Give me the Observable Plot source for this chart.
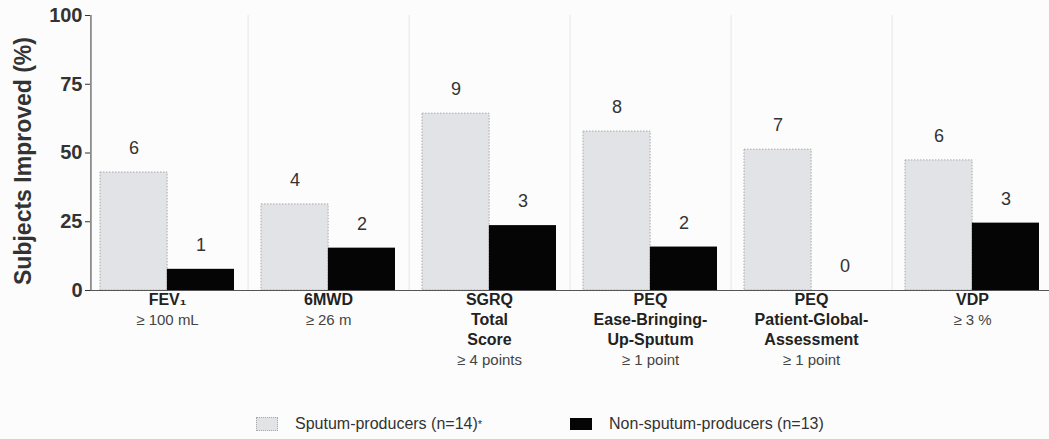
<!DOCTYPE html>
<html><head><meta charset="utf-8">
<script src="https://cdn.jsdelivr.net/npm/d3@7"></script>
<script src="https://cdn.jsdelivr.net/npm/@observablehq/plot@0.6"></script>
<style>
body{margin:0;background:#fcfcfc;font-family:"Liberation Sans",Arial,sans-serif;}
#legend{display:flex;align-items:center;padding-left:256px;margin-top:15px;font-size:16px;color:#333;}
.sw{display:inline-block;width:20px;height:12px;margin-right:17px;}
.item{display:flex;align-items:center;}
</style></head><body><div id="chart"></div><div id="legend"></div>
<script>
const categories = ["FEV1","6MWD","SGRQ","PEQ-EBUS","PEQ-PGA","VDP"];
const sputumPct = [42.9, 31.3, 64.3, 57.8, 51.2, 47.3];
const sputumN = [6, 4, 9, 8, 7, 6];
const nonSputumPct = [7.7, 15.4, 23.6, 15.8, 0, 24.5];
const nonSputumN = [1, 2, 3, 2, 0, 3];
const boldLines = [["FEV₁"], ["6MWD"], ["SGRQ","Total","Score"], ["PEQ","Ease-Bringing-","Up-Sputum"], ["PEQ","Patient-Global-","Assessment"], ["VDP"]];
const thresholdLines = ["≥ 100 mL","≥ 26 m","≥ 4 points","≥ 1 point","≥ 1 point","≥ 3 %"];
const yTicks = [0, 25, 50, 75, 100];
const seriesNames = ["Sputum-producers (n=14)", "Non-sputum-producers (n=13)"];
const seriesColors = ["#e2e3e6", "#050505"];

const W = 1049, H = 400, mL = 90, mR = 0, mT = 15, mB = 110;
const pIn = 0.17, pOut = 0.06;
const step = (W - mL - mR) / (categories.length - pIn + 2 * pOut);
const bw = step * (1 - pIn);
const half = bw / 2;

const sData = categories.map((c, i) => ({c, v: sputumPct[i], n: sputumN[i]}));
const nData = categories.map((c, i) => ({c, v: nonSputumPct[i], n: nonSputumN[i]}));
const boldData = categories.flatMap((c, i) => boldLines[i].map((t, j) => ({c, t, j})));
const thrData = categories.map((c, i) => ({c, t: thresholdLines[i], j: boldLines[i].length}));
const lineH = 20, firstDy = 14;

const marks = [
  Plot.ruleX(categories.slice(0, -1), {x: d => d, dx: step / 2, y1: 0, y2: 100, stroke: "#e6e6e6", strokeWidth: 1}),
  Plot.barY(sData, {x: "c", y: "v", fill: seriesColors[0], stroke: "#a8a8a8", strokeWidth: 1, strokeDasharray: "1.5,1.5", insetRight: half}),
  Plot.barY(nData, {x: "c", y: "v", fill: seriesColors[1], insetLeft: half}),
  Plot.text(sData, {x: "c", y: "v", text: d => String(d.n), dx: -half / 2, dy: -24, fontSize: 18, fill: "#333"}),
  Plot.text(nData, {x: "c", y: "v", text: d => String(d.n), dx: half / 2, dy: -24, fontSize: 18, fill: "#333"}),
  Plot.ruleY([0], {stroke: "#555", strokeWidth: 1.2}),
  Plot.axisY({ticks: yTicks, tickSize: 5, tickPadding: 3, fontSize: 20, fontWeight: "bold", label: null, color: "#333"}),
  Plot.ruleX([categories[0]], {dx: -(step * pOut + half), y1: 0, y2: 100, stroke: "#555", strokeWidth: 1.2}),
  Plot.text(["Subjects Improved (%)"], {frameAnchor: "left", textAnchor: "middle", rotate: -90, dx: -67, dy: 8, fontSize: 23, fontWeight: "bold", fill: "#333"}),
  ...boldData.map(d => Plot.text([d], {x: "c", frameAnchor: "bottom", text: "t", dy: firstDy + d.j * lineH, fontSize: 16, fontWeight: "bold", fill: "#222"})),
  ...thrData.map(d => Plot.text([d], {x: "c", frameAnchor: "bottom", text: "t", dy: firstDy + d.j * lineH, fontSize: 15, fill: "#444"}))
];

const chart = Plot.plot({
  width: W, height: H,
  marginLeft: mL, marginRight: mR, marginTop: mT, marginBottom: mB,
  style: {background: "transparent", fontFamily: "'Liberation Sans', Arial, sans-serif"},
  x: {domain: categories, paddingInner: pIn, paddingOuter: pOut, axis: null},
  y: {domain: [0, 100], axis: null},
  marks
});
document.getElementById("chart").append(chart);

const leg = document.getElementById("legend");
leg.innerHTML = `<span class="item"><span class="sw" style="background:${seriesColors[0]};border:1px dotted #aaa;"></span>${seriesNames[0]}<sup style="font-size:11px;">*</sup></span>` +
  `<span class="item" style="margin-left:88px;"><span class="sw" style="background:${seriesColors[1]};width:22px;"></span>${seriesNames[1]}</span>`;
</script>
</body></html>
